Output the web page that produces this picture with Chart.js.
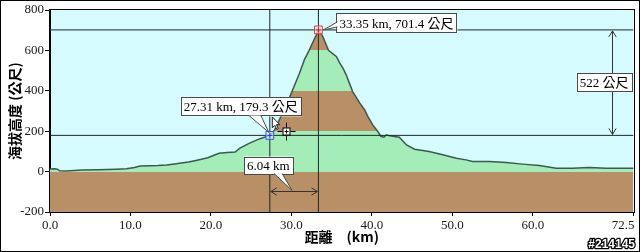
<!DOCTYPE html>
<html>
<head>
<meta charset="utf-8">
<script src="https://cdn.jsdelivr.net/npm/chart.js@4.4.1/dist/chart.umd.min.js"></script>
<style>
  html, body { margin: 0; padding: 0; background: #fff; }
  #wrap { width: 640px; height: 252px; }
</style>
</head>
<body>
<div id="wrap"><canvas id="profile" width="640" height="252"></canvas></div>
<script>
// route profile: distance (km) and elevation (m)
const distKm = [0, 0.6, 0.9, 1.2, 2.0, 3.0, 4.0, 6.0, 8.2, 9.5, 10.5, 11.2, 12.5, 13.4, 14.5, 15.5, 16.3, 17.2, 18.0, 18.8,
  19.6, 20.3, 21.0, 22.0, 23.0, 23.6, 24.8, 26.1, 27.31, 27.9, 28.5, 29.2, 29.8, 30.4, 31.0, 31.6, 32.2, 32.7, 33.1, 33.35,
  33.9, 34.6, 35.6, 36.0, 36.4, 36.8, 37.2, 37.6, 38.5, 39.1, 39.5, 40.1, 40.7, 41.1, 41.5, 41.8, 42.2, 43.4, 44.3, 45.3,
  47.1, 48.8, 50.5, 51.7, 52.5, 54.6, 56.7, 58.7, 60.8, 62.9, 64.9, 67.0, 69.1, 72.5];
const elevM = [13, 14, 12, 4, 3, 6, 8, 9, 12, 14, 20, 28, 29, 30, 33, 38, 42, 47, 54, 61,
  69, 80, 91, 94, 97, 116, 141, 163, 179.3, 205, 256, 314, 371, 429, 487, 553, 600, 644, 677, 701.4,
  668, 600, 569, 537, 512, 479, 438, 396, 339, 305, 272, 231, 200, 175, 170, 182, 177, 170, 132, 111,
  99, 83, 66, 58, 50, 50, 45, 37, 30, 17, 17, 20, 17, 17];

const xTicks = [0, 10, 20, 30, 40, 50, 60, 72.5];
const yTicks = [-200, 0, 200, 400, 600, 800];

// elevation band edges, fill goes brown / green / brown ... upwards
const bandEdges = [0, 200, 400, 600];
const bandColors = ['#b98f66', '#a4ecb8', '#b98f66', '#a4ecb8', '#b98f66'];

const peakPt = [33.35, 701.4];
const startPt = [27.31, 179.3];
const cursorPt = [29.35, 200];
const riseArrowKm = 69.8;
const runArrowM = -95;

const peakLabel = '33.35 km, 701.4 公尺';
const startLabel = '27.31 km, 179.3 公尺';
const riseLabel = '522 公尺';
const runLabel = '6.04 km';
const stamp = '#214145';

const xMax = 72.5;
const yMin = -200, yMax = 800;

const latinFont = '13px "Liberation Serif", serif';
const cjkFont = '13px "Noto Sans CJK TC", sans-serif';
const CJK = /[\u2E80-\u9FFF\uFF00-\uFFEF]/;

function runs(text) {
  const out = [];
  for (const ch of text) {
    const c = CJK.test(ch);
    if (out.length && out[out.length - 1].cjk === c) out[out.length - 1].s += ch;
    else out.push({ s: ch, cjk: c });
  }
  return out;
}

function mixedWidth(ctx, text) {
  let w = 0;
  runs(text).forEach(r => {
    ctx.font = r.cjk ? cjkFont : latinFont;
    w += ctx.measureText(r.s).width;
  });
  return w;
}

function mixedText(ctx, text, x, y) {
  ctx.textAlign = 'left';
  ctx.textBaseline = 'alphabetic';
  runs(text).forEach(r => {
    ctx.font = r.cjk ? cjkFont : latinFont;
    ctx.fillText(r.s, x, y);
    x += ctx.measureText(r.s).width;
  });
}

// white label box, optional tail = [base1, base2, tip]
function callout(ctx, text, x, y, w, h, tail) {
  ctx.save();
  ctx.fillStyle = '#fff';
  ctx.strokeStyle = '#4a4a4a';
  ctx.lineWidth = 1;
  ctx.fillRect(x, y, w, h);
  ctx.strokeRect(Math.round(x) + 0.5, Math.round(y) + 0.5, Math.round(w) - 1, h - 1);
  if (tail) {
    const [b1, b2, tip] = tail;
    ctx.beginPath();
    ctx.moveTo(b1[0], b1[1]);
    ctx.lineTo(tip[0], tip[1]);
    ctx.lineTo(b2[0], b2[1]);
    ctx.closePath();
    ctx.fill();
    ctx.beginPath();
    ctx.moveTo(b1[0], b1[1]);
    ctx.lineTo(tip[0], tip[1]);
    ctx.lineTo(b2[0], b2[1]);
    ctx.stroke();
  }
  ctx.fillStyle = '#000';
  mixedText(ctx, text, x + 3, y + h - 5);
  ctx.restore();
}

function dblArrow(ctx, x1, y1, x2, y2) {
  const a = Math.atan2(y2 - y1, x2 - x1);
  const L = 7, s = 0.55;
  ctx.beginPath();
  ctx.moveTo(x1, y1);
  ctx.lineTo(x2, y2);
  ctx.moveTo(x2 - L * Math.cos(a - s), y2 - L * Math.sin(a - s));
  ctx.lineTo(x2, y2);
  ctx.lineTo(x2 - L * Math.cos(a + s), y2 - L * Math.sin(a + s));
  ctx.moveTo(x1 + L * Math.cos(a - s), y1 + L * Math.sin(a - s));
  ctx.lineTo(x1, y1);
  ctx.lineTo(x1 + L * Math.cos(a + s), y1 + L * Math.sin(a + s));
  ctx.stroke();
}

function crosshair(ctx, x, y) {
  x = Math.round(x) + 0.5;
  y = Math.round(y) + 0.5;
  ctx.strokeStyle = '#000';
  ctx.lineWidth = 1;
  ctx.beginPath();
  ctx.moveTo(x - 9, y); ctx.lineTo(x - 4, y);
  ctx.moveTo(x + 4, y); ctx.lineTo(x + 9, y);
  ctx.moveTo(x, y - 9); ctx.lineTo(x, y - 4);
  ctx.moveTo(x, y + 4); ctx.lineTo(x, y + 9);
  ctx.stroke();
  ctx.fillStyle = '#fff';
  ctx.fillRect(x - 3.5, y - 3.5, 7, 7);
  ctx.strokeRect(x - 3.5, y - 3.5, 7, 7);
  ctx.beginPath();
  ctx.moveTo(x - 2, y); ctx.lineTo(x + 2, y);
  ctx.moveTo(x, y - 2); ctx.lineTo(x, y + 2);
  ctx.stroke();
}

function mousePointer(ctx, x, y) {
  const p = [[0, 0], [0, 11], [2.5, 8.5], [4.5, 12.5], [6, 11.8], [4.2, 7.8], [7.5, 7.8]];
  ctx.beginPath();
  p.forEach(([dx, dy], i) => i ? ctx.lineTo(x + dx, y + dy) : ctx.moveTo(x + dx, y + dy));
  ctx.closePath();
  ctx.fillStyle = '#fff';
  ctx.fill();
  ctx.strokeStyle = '#222';
  ctx.lineWidth = 1;
  ctx.stroke();
}

// hard-stop gradient so the terrain fill is banded by elevation
function bandFill(c) {
  const chart = c.chart;
  const area = chart.chartArea;
  if (!area || !chart.scales.y) return bandColors[0];
  const ys = chart.scales.y;
  const h = area.bottom - area.top;
  const g = chart.ctx.createLinearGradient(0, area.bottom, 0, area.top);
  g.addColorStop(0, bandColors[0]);
  bandEdges.forEach((v, i) => {
    const f = Math.min(1, Math.max(0, (area.bottom - ys.getPixelForValue(v)) / h));
    g.addColorStop(f, bandColors[i]);
    g.addColorStop(f, bandColors[i + 1]);
  });
  g.addColorStop(1, bandColors[bandColors.length - 1]);
  return g;
}

const skyPlugin = {
  id: 'sky',
  beforeDraw(chart) {
    const { ctx, chartArea: a } = chart;
    ctx.save();
    ctx.fillStyle = '#d5fbfe';
    ctx.fillRect(a.left, a.top, a.right - a.left, a.bottom - a.top);
    ctx.restore();
  }
};

const notesPlugin = {
  id: 'notes',
  afterDatasetsDraw(chart) {
    const { ctx, scales: { x, y } } = chart;
    const px = x.getPixelForValue(peakPt[0]), py = y.getPixelForValue(peakPt[1]);
    const sx = x.getPixelForValue(startPt[0]), sy = y.getPixelForValue(startPt[1]);
    ctx.save();

    // rise arrow between the two horizontal lines
    ctx.strokeStyle = '#333';
    ctx.lineWidth = 1;
    const ax = Math.round(x.getPixelForValue(riseArrowKm)) + 0.5;
    dblArrow(ctx, ax, py + 1, ax, sy - 1);
    // run arrow between the two vertical lines
    const ry = Math.round(y.getPixelForValue(runArrowM)) + 0.5;
    dblArrow(ctx, sx + 1, ry, px - 1, ry);

    // cursor marks
    crosshair(ctx, x.getPixelForValue(cursorPt[0]), y.getPixelForValue(cursorPt[1]));
    mousePointer(ctx, sx + 2.5, sy - 18.5);

    // peak label
    let w = mixedWidth(ctx, peakLabel) + 7;
    let bx = px + 18, by = py - 17;
    callout(ctx, peakLabel, bx, by, w, 20, [[bx + 1, by + 9], [bx + 1, by + 14], [px + 5, py]]);

    // start label
    w = mixedWidth(ctx, startLabel) + 7;
    bx = sx + 32 - w; by = sy - 38;
    callout(ctx, startLabel, bx, by, w, 19, [[sx - 21, by + 18], [sx - 9, by + 18], [sx - 1, sy - 3]]);

    // rise label
    w = mixedWidth(ctx, riseLabel) + 7;
    callout(ctx, riseLabel, ax + 20 - w, (py + sy) / 2 - 9.5, w, 19);

    // run label
    const mx = (sx + px) / 2;
    w = mixedWidth(ctx, runLabel) + 7;
    bx = mx - 50; by = ry - 35;
    callout(ctx, runLabel, bx, by, w, 18, [[mx - 20, by + 17], [mx - 12, by + 17], [mx - 2, ry - 1]]);

    ctx.restore();
  },
  afterDraw(chart) {
    const { ctx, chartArea: a, scales: { x } } = chart;
    ctx.save();
    ctx.strokeStyle = '#000';
    ctx.lineWidth = 1;
    ctx.strokeRect(Math.round(a.left) - 0.5, Math.round(a.top) - 0.5,
      Math.round(a.right - a.left) + 1, Math.round(a.bottom - a.top) + 1);
    // last x label sits flush with the axis end
    ctx.fillStyle = '#1a1a1a';
    ctx.font = latinFont;
    ctx.textAlign = 'right';
    ctx.textBaseline = 'top';
    ctx.fillText(xMax.toFixed(1), x.getPixelForValue(xMax) + 1, a.bottom + 7);
    // outer frame
    ctx.strokeRect(0.5, 0.5, chart.width - 1, chart.height - 1);
    // id stamp
    ctx.font = 'bold 12px "Liberation Sans", sans-serif';
    ctx.textBaseline = 'alphabetic';
    ctx.lineWidth = 2.5;
    ctx.lineJoin = 'round';
    ctx.strokeText(stamp, 635, 248);
    ctx.fillStyle = '#fff';
    ctx.fillText(stamp, 635, 248);
    ctx.restore();
  }
};

const lineStyle = { borderColor: '#1e2828', borderWidth: 1, pointRadius: 0, fill: false, order: 5 };

new Chart(document.getElementById('profile'), {
  type: 'line',
  data: {
    datasets: [
      {
        data: distKm.map((d, i) => ({ x: d, y: elevM[i] })),
        borderColor: '#3b5a4e',
        borderWidth: 1.5,
        backgroundColor: bandFill,
        fill: 'start',
        pointRadius: 0,
        tension: 0,
        order: 10
      },
      { ...lineStyle, data: [{ x: 0, y: peakPt[1] }, { x: xMax, y: peakPt[1] }] },
      { ...lineStyle, data: [{ x: 0, y: startPt[1] }, { x: xMax, y: startPt[1] }] },
      { ...lineStyle, data: [{ x: startPt[0], y: yMin }, { x: startPt[0], y: yMax }] },
      { ...lineStyle, data: [{ x: peakPt[0], y: yMin }, { x: peakPt[0], y: yMax }] },
      {
        data: [{ x: peakPt[0], y: peakPt[1] }], showLine: false, pointStyle: 'rect',
        pointRadius: 5.5, borderWidth: 1, borderColor: '#e53a3a', backgroundColor: 'rgba(255,225,225,0.7)', order: 1
      },
      {
        data: [{ x: peakPt[0], y: peakPt[1] }], showLine: false, pointStyle: 'cross',
        pointRadius: 2.5, borderWidth: 1, borderColor: '#c02020', order: 0
      },
      {
        data: [{ x: startPt[0], y: startPt[1] }], showLine: false, pointStyle: 'rect',
        pointRadius: 5.5, borderWidth: 1, borderColor: '#3556e0', backgroundColor: 'rgba(220,230,255,0.7)', order: 1
      },
      {
        data: [{ x: startPt[0], y: startPt[1] }], showLine: false, pointStyle: 'cross',
        pointRadius: 2.5, borderWidth: 1, borderColor: '#2040c0', order: 0
      }
    ]
  },
  options: {
    responsive: false,
    animation: false,
    devicePixelRatio: 1,
    layout: { padding: { top: 10, right: 4, left: 0, bottom: 0 } },
    plugins: { legend: { display: false }, tooltip: { enabled: false } },
    scales: {
      x: {
        type: 'linear',
        min: 0,
        max: xMax,
        afterBuildTicks: s => { s.ticks = xTicks.map(v => ({ value: v })); },
        afterFit: s => { s.height = 40; s.paddingLeft = 0; s.paddingRight = 0; },
        ticks: {
          autoSkip: false,
          maxRotation: 0,
          padding: 2,
          color: '#1a1a1a',
          font: { family: '"Liberation Serif", serif', size: 13 },
          callback: v => (v === xMax ? '' : Number(v).toFixed(1))
        },
        grid: { drawOnChartArea: false, drawTicks: true, tickLength: 4, color: '#000' },
        border: { color: '#000' },
        title: {
          display: true,
          text: '距離　(km)',
          color: '#000',
          padding: { top: 0, bottom: 7 },
          font: { family: '"Noto Sans CJK TC", sans-serif', size: 14, weight: 'bold' }
        }
      },
      y: {
        type: 'linear',
        min: yMin,
        max: yMax,
        afterBuildTicks: s => { s.ticks = yTicks.map(v => ({ value: v })); },
        afterFit: s => { s.width = 50; s.paddingTop = 0; s.paddingBottom = 0; },
        ticks: {
          padding: 1,
          color: '#1a1a1a',
          font: { family: '"Liberation Serif", serif', size: 13 },
          callback: v => String(v)
        },
        grid: { drawOnChartArea: false, drawTicks: true, tickLength: 5, color: '#000' },
        border: { color: '#000' },
        title: {
          display: true,
          text: '海拔高度 (公尺)',
          color: '#000',
          padding: { top: 6, bottom: 0 },
          font: { family: '"Noto Sans CJK TC", sans-serif', size: 14, weight: 'bold' }
        }
      }
    }
  },
  plugins: [skyPlugin, notesPlugin]
});
</script>
</body>
</html>
